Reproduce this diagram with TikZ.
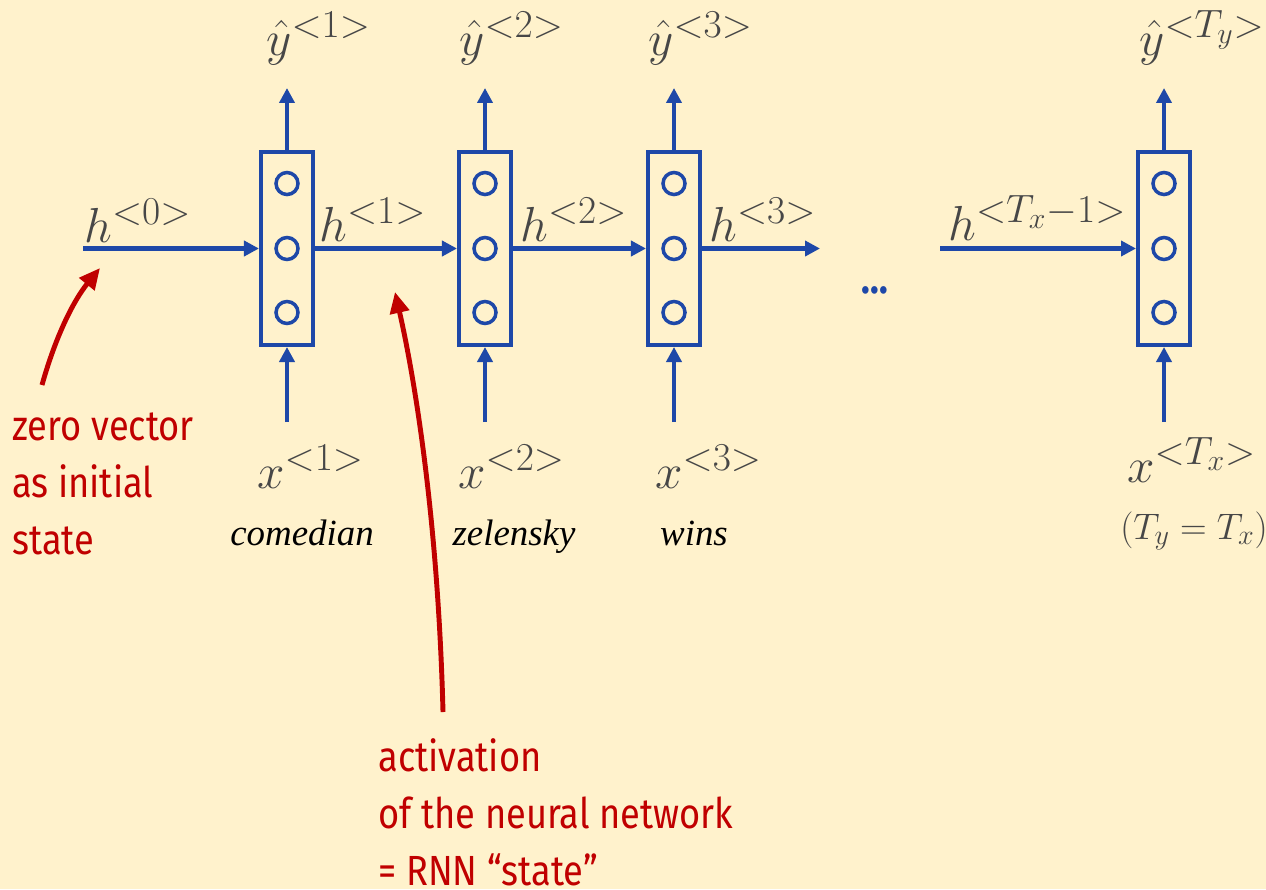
\RequirePackage{fix-cm}
\documentclass[tikz,border=0pt]{standalone}
\usepackage{amsmath, amssymb}
\usepackage{xcolor}
\usepackage{fontspec}
\usepackage{tikz}
\usetikzlibrary{arrows.meta, positioning, calc}
\newfontfamily\notefont[FakeStretch=0.86]{Fira Sans}
\newfontfamily\wordfont{Liberation Serif}
\DeclareMathSizes{28}{28}{22.5}{17}
\DeclareMathSizes{21}{21}{16}{12}
\definecolor{bgyellow}{HTML}{FFF2CC}
\definecolor{rnnblue}{HTML}{1E48A8}
\definecolor{notered}{HTML}{C00000}

\begin{document}
\begin{tikzpicture}[
    x=0.02cm, y=-0.02cm,
    cell/.style={rectangle, draw=rnnblue, line width=2.3pt, minimum width=1.04cm, minimum height=3.86cm, inner sep=0pt},
    unit/.style={circle, draw=rnnblue, line width=2pt, minimum size=0.44cm, inner sep=0pt},
    flow/.style={-{Triangle[length=0.3cm, width=0.3cm]}, line width=2.3pt, rnnblue},
    pointer/.style={-{Triangle[length=0.42cm, width=0.38cm]}, line width=2.8pt, notered},
    sym/.style={text=black!72, inner sep=0pt, font=\fontsize{28}{34}\selectfont},
    word/.style={inner sep=0pt, font=\wordfont\itshape\fontsize{21}{25}\selectfont},
    note/.style={text=notered, align=left, inner sep=0pt, font=\notefont\fontsize{24}{32.4}\selectfont},
]
    \useasboundingbox (0,0) rectangle (1266,889);
    \fill[bgyellow] (0,0) rectangle (1266,889);

    % RNN cells
    \node[cell] (c1) at (287,248.5) {};
    \node[cell] (c2) at (485,248.5) {};
    \node[cell] (c3) at (674,248.5) {};
    \node[cell] (c4) at (1164,248.5) {};
    \foreach \c in {c1,c2,c3,c4} {
        \node[unit] (\c-a) at ([yshift=1.3cm]\c.center) {};
        \node[unit] (\c-b) at (\c.center) {};
        \node[unit] (\c-c) at ([yshift=-1.28cm]\c.center) {};
    }

    % outputs
    \node[sym, anchor=base west] (y1) at (266,55) {$\hat{y}^{<1>}$};
    \node[sym, anchor=base west] (y2) at (459,55) {$\hat{y}^{<2>}$};
    \node[sym, anchor=base west] (y3) at (648,55) {$\hat{y}^{<3>}$};
    \node[sym, anchor=base west] (y4) at (1139,55) {$\hat{y}^{<T_y>}$};

    % inputs
    \node[sym, anchor=base west] (x1) at (257,488) {$x^{<1>}$};
    \node[sym, anchor=base west] (x2) at (458,488) {$x^{<2>}$};
    \node[sym, anchor=base west] (x3) at (655,488) {$x^{<3>}$};
    \node[sym, anchor=base west] (x4) at (1127,482) {$x^{<T_x>}$};
    \node[sym, anchor=base west, font=\fontsize{21}{25}\selectfont] (eq) at (1120,539) {$(T_y = T_x)$};
    \node[word, anchor=base] (w1) at (302,545) {comedian};
    \node[word, anchor=base] (w2) at (514,545) {zelensky};
    \node[word, anchor=base] (w3) at (694,545) {wins};

    % hidden states
    \node[sym, anchor=base west] (h0) at (84,242) {$h^{<0>}$};
    \node[sym, anchor=base west] (h1) at (319,241) {$h^{<1>}$};
    \node[sym, anchor=base west] (h2) at (520,241) {$h^{<2>}$};
    \node[sym, anchor=base west] (h3) at (709,241) {$h^{<3>}$};
    \node[sym, anchor=base west] (hT) at (948,240) {$h^{<T_x-1>}$};
    \node[text=rnnblue, inner sep=0pt, font=\notefont\bfseries\fontsize{24}{28}\selectfont] (dots) at (875,290) {...};

    \coordinate (h0start) at (83,248.5);
    \coordinate (h3end) at (820,248.5);
    \coordinate (hTstart) at (940,248.5);
    \foreach \c in {1,2,3,4} {
        \coordinate (out\c) at ($(c\c.center)+(0,-160.5)$);
        \coordinate (in\c) at ($(c\c.center)+(0,173.5)$);
    }

    \draw[flow] (h0start) -- (c1.west);
    \draw[flow] (c1.east) -- (c2.west);
    \draw[flow] (c2.east) -- (c3.west);
    \draw[flow] (c3.east) -- (h3end);
    \draw[flow] (hTstart) -- (c4.west);
    \foreach \c in {1,2,3,4} {
        \draw[flow] (c\c.north) -- (out\c);
        \draw[flow] (in\c) -- (c\c.south);
    }

    % annotations
    \node[note, anchor=west] (zero) at (12,484) {zero vector\\as initial\\state};
    \node[note, anchor=west] (act) at (378,812) {activation\\of the neural network\\= RNN “state”};
    \coordinate (zerotail) at (42,385);
    \coordinate (zerotip) at (100,268);
    \coordinate (acttail) at (443,712);
    \coordinate (acttip) at (395,292);
    \draw[pointer] (zerotail) .. controls (56,335) and (74,300) .. (zerotip);
    \draw[pointer] (acttail) .. controls (438,520) and (415,380) .. (acttip);
\end{tikzpicture}
\end{document}
